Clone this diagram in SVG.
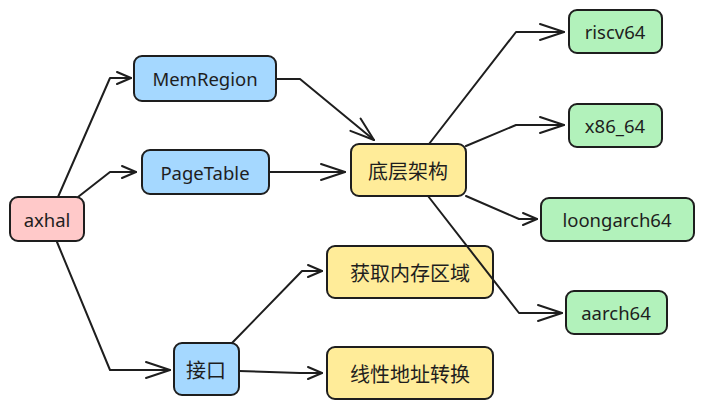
<svg xmlns="http://www.w3.org/2000/svg" width="701" height="409" viewBox="0 0 701 409">
<style>
.n{stroke:#1e1e1e;stroke-width:2}
.red{fill:#ffc9c9}.blue{fill:#a5d8ff}.yel{fill:#ffec99}.grn{fill:#b2f2bb}
.t{font-family:"Noto Sans","Open Sans",sans-serif;font-size:18.5px;fill:#1e1e1e;text-anchor:middle;dominant-baseline:central}
.c{font-family:"Noto Sans CJK SC","Noto Sans",sans-serif;font-size:20px;fill:#1e1e1e;text-anchor:middle;dominant-baseline:central}
.e{fill:none;stroke:#1e1e1e;stroke-width:2;stroke-linecap:round;stroke-linejoin:round}
</style>
<defs>
<marker id="big" markerUnits="userSpaceOnUse" markerWidth="30" markerHeight="24" refX="24" refY="12" orient="auto" overflow="visible">
<path d="M0,4 L24,12 L0,20" fill="none" stroke="#1e1e1e" stroke-width="2" stroke-linecap="round" stroke-linejoin="round"/>
</marker>
<marker id="sm" markerUnits="userSpaceOnUse" markerWidth="20" markerHeight="16" refX="14" refY="8" orient="auto" overflow="visible">
<path d="M0,2 L14,8 L0,14" fill="none" stroke="#1e1e1e" stroke-width="2" stroke-linecap="round" stroke-linejoin="round"/>
</marker>
</defs>
<g id="axhal"><rect class="n red" x="10" y="197" width="74" height="44" rx="8"/><text class="t" x="47" y="219">axhal</text></g>
<g id="memregion"><rect class="n blue" x="134" y="56" width="142" height="45" rx="8"/><text class="t" x="205" y="78">MemRegion</text></g>
<g id="pagetable"><rect class="n blue" x="142" y="150" width="127" height="44" rx="8"/><text class="t" x="205" y="172">PageTable</text></g>
<g id="arch"><rect class="n yel" x="351" y="144" width="115" height="52" rx="8"/><text class="c" x="408" y="170">底层架构</text></g>
<g id="riscv64"><rect class="n grn" x="569" y="10" width="93" height="43" rx="8"/><text class="t" x="615" y="31">riscv64</text></g>
<g id="x86_64"><rect class="n grn" x="569" y="104" width="93" height="43" rx="8"/><text class="t" x="615" y="125">x86_64</text></g>
<g id="loongarch64"><rect class="n grn" x="541" y="198" width="153" height="43" rx="8"/><text class="t" x="617" y="219">loongarch64</text></g>
<g id="aarch64"><rect class="n grn" x="566" y="291" width="101" height="43" rx="8"/><text class="t" x="616" y="312">aarch64</text></g>
<g id="iface"><rect class="n blue" x="174" y="343" width="65" height="52" rx="8"/><text class="c" x="206" y="369">接口</text></g>
<g id="getmem"><rect class="n yel" x="327" y="246" width="166" height="52" rx="8"/><text class="c" x="410" y="272">获取内存区域</text></g>
<g id="linear"><rect class="n yel" x="327" y="347" width="166" height="52" rx="8"/><text class="c" x="410" y="373">线性地址转换</text></g>
<g id="connectors">
<polyline class="e" points="58,197 110,78 131,78" marker-end="url(#sm)"/>
<polyline class="e" points="78,197 110,172 136,172" marker-end="url(#sm)"/>
<polyline class="e" points="57,242 110,370 170,370" marker-end="url(#big)"/>
<polyline class="e" points="276,79 300,79 374,140" marker-end="url(#big)"/>
<polyline class="e" points="269,172 345,172" marker-end="url(#big)"/>
<polyline class="e" points="429,144 516,32 564,32" marker-end="url(#big)"/>
<polyline class="e" points="466,146 516,125 564,125" marker-end="url(#big)"/>
<polyline class="e" points="466,196 519,219 537,219" marker-end="url(#sm)"/>
<polyline class="e" points="428,196 519,313 562,313" marker-end="url(#big)"/>
<polyline class="e" points="232,343 302,271 322,271" marker-end="url(#sm)"/>
<polyline class="e" points="239,371 300,373 322,373" marker-end="url(#sm)"/>
</g>
</svg>
